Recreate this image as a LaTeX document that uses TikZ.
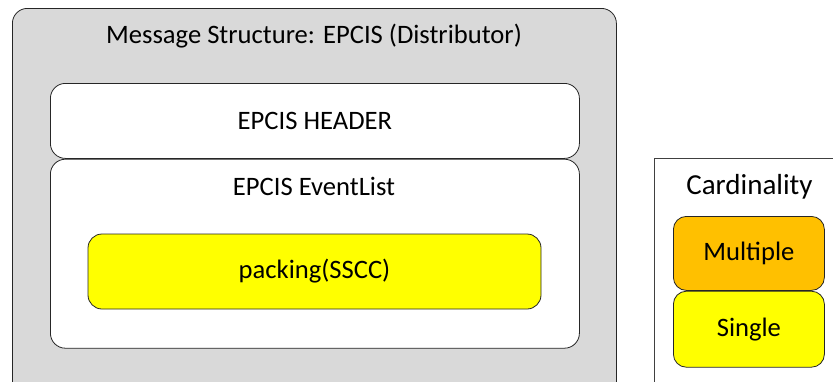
\documentclass[tikz,border=0pt]{standalone}
\usepackage{fontspec}
\setmainfont{Carlito}
\usetikzlibrary{positioning}
\definecolor{msggray}{HTML}{D9D9D9}
\definecolor{multorange}{HTML}{FFC000}
\definecolor{singleyellow}{HTML}{FFFF00}
\begin{document}
\begin{tikzpicture}[x=1pt, y=-1pt,
                    box/.style={rectangle,rounded corners=15pt,draw=black!85,line width=0.8pt,inner sep=0pt},
                    main text/.style={font=\fontsize{26.6}{30}\selectfont}]
  \useasboundingbox (0,0) rectangle (833,381);
  \clip (0,0) rectangle (833,381);

  % message structure
  \node[box,fill=msggray,anchor=north west,minimum width=604pt,minimum height=400pt] (msg) at (12,8) {};
  \node[main text] (msgtitle) at (314,36) {Message Structure: EPCIS (Distributor)};

  \node[box,fill=white,anchor=north west,minimum width=529pt,minimum height=75pt] (header) at (50,83) {};
  \node[main text] at (header.center) {EPCIS HEADER};
  \node[box,fill=white,minimum width=529pt,minimum height=189pt,below=0pt of header] (list) {};
  \node[main text] (listtitle) at (314,186) {EPCIS EventList};
  \node[box,fill=singleyellow,rounded corners=14pt,minimum width=453pt,minimum height=75pt,main text] (packing) at (314.5,271.5) {packing(SSCC)};

  % legend
  \node[rectangle,draw=black!75,line width=0.8pt,fill=white,anchor=north west,minimum width=220pt,minimum height=260pt] (card) at (654,158) {};
  \node[font=\fontsize{29}{33}\selectfont] (cardtitle) at (749.5,187) {Cardinality};
  \node[box,fill=multorange,rounded corners=13pt,anchor=north west,minimum width=151pt,minimum height=74pt,main text] (mult) at (673,216) {Multiple};
  \node[box,fill=singleyellow,rounded corners=13pt,minimum width=151pt,minimum height=76pt,below=0pt of mult,main text] (single) {Single};
\end{tikzpicture}
\end{document}
